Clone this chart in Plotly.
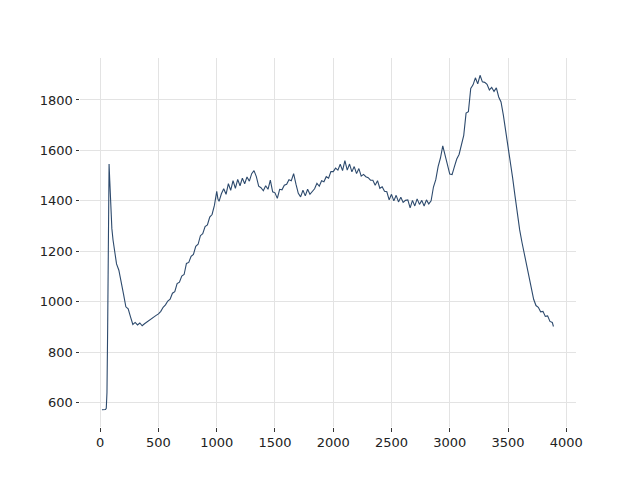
import plotly.graph_objects as go

x_vals = [15, 30, 45, 52, 58, 64, 70, 76, 82, 90, 100, 110, 120, 140, 160, 180, 200, 220, 240, 260,
          280, 300, 320, 340, 360, 380, 400, 420, 440, 460, 480, 500, 520, 540, 560, 580, 600, 620, 640, 660,
          680, 700, 720, 740, 760, 780, 800, 820, 840, 860, 880, 900, 920, 940, 960, 980, 1000, 1010, 1020, 1040,
          1060, 1080, 1100, 1120, 1140, 1160, 1180, 1200, 1220, 1240, 1260, 1280, 1300, 1320, 1340, 1360, 1380, 1400, 1420, 1440,
          1460, 1480, 1500, 1520, 1540, 1560, 1580, 1600, 1620, 1640, 1660, 1680, 1700, 1720, 1740, 1760, 1780, 1800, 1820, 1840,
          1860, 1880, 1900, 1920, 1940, 1960, 1980, 2000, 2020, 2040, 2060, 2080, 2100, 2120, 2140, 2160, 2180, 2200, 2220, 2240,
          2260, 2280, 2300, 2320, 2340, 2360, 2380, 2400, 2420, 2440, 2460, 2480, 2500, 2520, 2540, 2560, 2580, 2600, 2620, 2640,
          2660, 2680, 2700, 2720, 2740, 2760, 2780, 2800, 2820, 2840, 2860, 2880, 2900, 2920, 2940, 2960, 2980, 3000, 3020, 3040,
          3060, 3080, 3100, 3120, 3140, 3160, 3180, 3200, 3220, 3240, 3260, 3280, 3300, 3320, 3340, 3360, 3380, 3400, 3420, 3440,
          3460, 3480, 3500, 3520, 3540, 3560, 3580, 3600, 3620, 3640, 3660, 3680, 3700, 3720, 3740, 3760, 3780, 3800, 3820, 3840,
          3860, 3880, 3890]

y_vals = [572, 572, 573, 578, 640, 900, 1300, 1546, 1480, 1370, 1290, 1245, 1215, 1150, 1125, 1070, 1030, 980, 972, 940,
          910, 918, 908, 916, 905, 913, 920, 928, 933, 942, 946, 952, 962, 978, 988, 1003, 1010, 1034, 1040, 1072,
          1078, 1102, 1108, 1152, 1156, 1180, 1188, 1220, 1228, 1262, 1270, 1298, 1305, 1336, 1346, 1382, 1438, 1408, 1398, 1428,
          1448, 1426, 1468, 1442, 1480, 1450, 1485, 1460, 1490, 1468, 1495, 1478, 1508, 1520, 1496, 1458, 1452, 1440, 1460, 1446,
          1482, 1436, 1432, 1410, 1446, 1444, 1462, 1466, 1484, 1480, 1508, 1466, 1430, 1416, 1442, 1420, 1446, 1426, 1438, 1448,
          1470, 1458, 1480, 1476, 1496, 1490, 1516, 1516, 1530, 1522, 1545, 1520, 1560, 1522, 1546, 1515, 1536, 1508, 1528, 1498,
          1505, 1496, 1492, 1482, 1482, 1462, 1480, 1450, 1456, 1438, 1436, 1404, 1426, 1400, 1422, 1396, 1414, 1394, 1402, 1404,
          1372, 1402, 1380, 1408, 1386, 1402, 1380, 1404, 1388, 1400, 1455, 1484, 1536, 1570, 1618, 1586, 1544, 1506, 1504, 1536,
          1566, 1584, 1628, 1660, 1748, 1754, 1846, 1860, 1888, 1864, 1898, 1872, 1870, 1862, 1840, 1850, 1834, 1848, 1812, 1792,
          1740, 1680, 1620, 1545, 1490, 1420, 1340, 1285, 1235, 1190, 1140, 1095, 1050, 1010, 985, 978, 960, 962, 942, 944,
          922, 918, 902]

x_ticks = [0, 500, 1000, 1500, 2000, 2500, 3000, 3500, 4000]
y_ticks = [600, 800, 1000, 1200, 1400, 1600, 1800]

fig = go.Figure()
fig.add_trace(go.Scatter(x=x_vals, y=y_vals, mode="lines",
                         line=dict(color="#2d4a6d", width=1.1), showlegend=False))

axis_common = dict(showline=False, zeroline=False, showgrid=True, gridcolor="#e3e3e3", gridwidth=1,
                   ticks="outside", ticklen=3.5, tickwidth=1, tickcolor="#333333",
                   tickfont=dict(family="DejaVu Sans", size=13, color="#222222"))

fig.update_layout(
    width=640, height=480,
    margin=dict(l=72, r=72, t=50, b=61),
    paper_bgcolor="white", plot_bgcolor="white",
    xaxis=dict(range=[-173.5, 4083.5], tickvals=x_ticks, **axis_common),
    yaxis=dict(range=[503.5, 1966.5], tickvals=y_ticks, **axis_common),
)

fig.write_html("out.html")
